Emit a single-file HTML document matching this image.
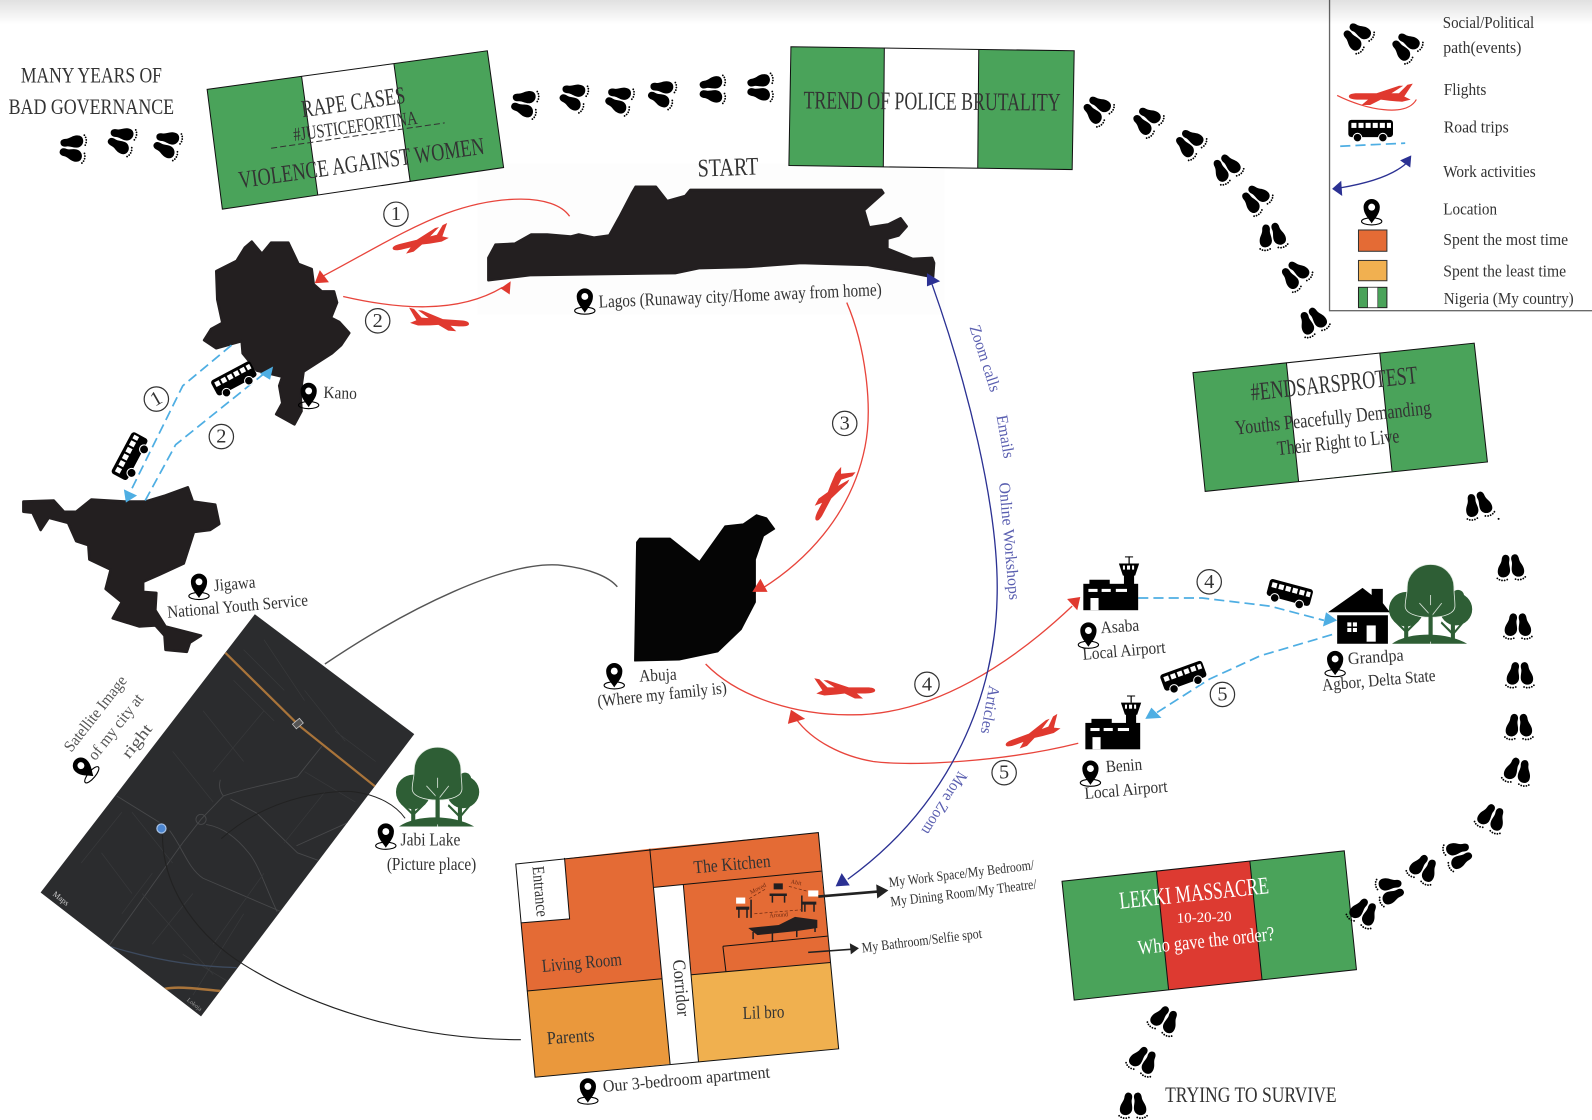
<!DOCTYPE html>
<html><head><meta charset="utf-8"><style>
html,body{margin:0;padding:0;background:#fff;width:1592px;height:1120px;overflow:hidden}
svg{display:block}
text{font-family:"Liberation Serif",serif;text-anchor:middle;dominant-baseline:central;fill:#333;font-size:17px}
.f{fill:#4aa35a;stroke:none}.o{fill:none;stroke:#111;stroke-width:1}
.r{fill:none;stroke:#e8453c;stroke-width:1.3}.ra{fill:#e0392f}
.d{fill:none;stroke:#4eaee3;stroke-width:1.7;stroke-dasharray:10 5}.da{fill:#4eaee3}
.b text,text.b{fill:#5a5fb0;font-size:16px}
.m{fill:none;stroke:#47484a;stroke-width:.9}
.n{fill:none;stroke:#333;stroke-width:1.2}
.blob{stroke-width:2.5;stroke-linejoin:round}
</style></head><body>
<svg width="1592" height="1120" viewBox="0 0 1568 1103.1" xmlns="http://www.w3.org/2000/svg">
<defs>
<clipPath id="mapclip"><polygon points="251,605 408,723 198,1001 40,879"/></clipPath>
<linearGradient id="top" x1="0" y1="0" x2="0" y2="1"><stop offset="0" stop-color="#000" stop-opacity=".12"/><stop offset="1" stop-color="#000" stop-opacity="0"/></linearGradient>
<g id="foot"><g transform="rotate(7 -6 0)"><path d="M-6,-13C-2.500,-13 -1.500,-10 -2,-7C-2.500,-4 -.5,-1 -.5,3C-.5,7 -4,9.500 -7,9.500C-11.500,9.500 -13,6 -12.500,2C-12,-2 -9.500,-4 -9.500,-8C-9.500,-11 -8,-13 -6,-13Z"/><circle cx="-12.500" cy="10.800" r=".9"/><circle cx="-10.300" cy="12" r=".9"/><circle cx="-7.800" cy="12.500" r=".9"/><circle cx="-5.200" cy="12.300" r=".9"/><circle cx="-2.700" cy="11.300" r=".9"/></g></g>
<g id="fp"><use href="#foot"/><use href="#foot" transform="scale(-1,1)"/></g>
<path id="plane" d="M-30,-12L-25,-11L-17,-3L-10,-3L-21,-10L-17,-10L4,-3L22,-3C27,-3 30,-2 30,0C30,2 26,3 20,3L12,3L18,8L10,8L0,3L-8,4L-20,5L-28,3L-22,0Z" fill="#e0392f"/>
<g id="bus"><rect x="-22" y="-10" width="44" height="17" rx="3"/><circle cx="-13" cy="7.500" r="4.200" stroke="#fff" stroke-width="1"/><circle cx="12" cy="7.500" r="4.200" stroke="#fff" stroke-width="1"/><g fill="#fff"><rect x="-19" y="-7" width="5" height="5"/><rect x="-12" y="-7" width="5" height="5"/><rect x="-5" y="-7" width="5" height="5"/><rect x="2" y="-7" width="5" height="5"/><rect x="9" y="-7" width="5" height="5"/><rect x="16" y="-7" width="4" height="5"/></g></g>
<g id="pin"><path d="M0,13C-3,8 -8,4 -8,-3A8,8 0 0 1 8,-3C8,4 3,8 0,13Z"/><circle cy="-3" r="3.400" fill="#fff"/><ellipse cy="11" rx="10" ry="3.500" fill="none" stroke="#000" stroke-width="1.100"/></g>
<g id="air"><rect x="0" y="27" width="54" height="26"/><rect x="6" y="23" width="20" height="6"/><rect x="40" y="16" width="10" height="14"/><path d="M35,7L55,7L51,19L39,19Z"/><rect x="44.500" y="0" width="1.200" height="7"/><rect x="41" y="0" width="8" height="1"/><g fill="#fff"><rect x="5" y="32" width="9" height="3"/><rect x="18" y="32" width="9" height="3"/><rect x="32" y="32" width="11" height="3"/><rect x="7" y="41" width="8" height="12"/><rect x="39" y="9" width="2" height="4"/><rect x="43" y="9" width="3" height="4"/><rect x="48" y="9" width="2" height="4"/></g></g>
<g id="trees"><g fill="#2e5e35"><circle cx="17" cy="44" r="17"/><circle cx="66" cy="44" r="16"/><circle cx="68" cy="31" r="6"/><path d="M15,58L19,58L19,76L15,76ZM61,58L65,58L65,76L61,76Z"/><path d="M39,50L43,50L43,74L39,74ZM6,54L16,64L16,67L5,56ZM28,54L18,64L18,67L29,56ZM52,56L62,66L62,69L51,58ZM74,54L64,66L64,69L75,56Z"/><path d="M3,78C20,66 56,66 77,78Z"/></g><path d="M41,0C27,0 18,11 18,22C18,30 16,34 16,41C16,48 27,52 41,52C55,52 65,48 65,41C65,34 64,30 64,22C64,11 55,0 41,0Z" fill="#2e5e35" stroke="#dfe8df" stroke-width=".8"/><path d="M41,30L41,78M41,50L30,38M41,52L52,38" stroke="#dfe8df" stroke-width=".9" fill="none" opacity=".9"/><path d="M39,40L43,40L43,76L39,76Z" fill="#2e5e35"/></g>
</defs>
<rect width="1568" height="1104" fill="#fff"/>
<rect x="470" y="161" width="460" height="149" fill="#fdfdfd"/>

<!-- Lagos / Kano / Jigawa / Abuja -->
<path class="blob" fill="#231f20" stroke="#231f20" d="M481,276L481,254L488,241L507,240L523,231L539,231L562,233L570,231L585,234L600,232L610,214L622,191L626,184L646,184L657,198L675,193L680,187L868,187L870,190L861,198L851,207L856,224L875,221L887,215L893,223L885,232L874,235L874,245L899,255L918,254L920,259L919,273L889,267L855,261L789,259L735,263L689,264L665,269L589,270L522,271Z"/>
<path class="blob" fill="#231f20" stroke="#231f20" d="M248,238L258,250L267,239L284,239L294,260L307,265L309,280L317,287L329,287L332,298L326,313L334,317L344,328L336,340L327,348L299,366L296,387L297,405L290,418L272,408L278,397L275,380L278,371L253,365L239,348L238,336L213,343L201,335L208,324L219,318L214,295L213,267L233,257L241,244Z"/>
<path class="blob" fill="#231f20" stroke="#231f20" d="M23,494L53,493L63,504L75,504L90,492L123,494L143,494L163,488L185,480L190,494L212,497L216,516L207,522L191,524L181,555L157,566L141,573L141,583L154,584L153,601L163,617L198,626L187,633L184,642L163,640L162,626L153,616L137,617L111,609L120,593L104,580L109,561L88,551L87,537L75,533L67,515L48,510L40,522L32,505L23,504Z"/>
<path fill="#050505" d="M627,534L630,530L660,530L689,553L714,518L732,516L745,507L755,510L763,521L752,528L744,551L744,593L730,620L707,642L669,650L625,651Z" stroke="#050505" stroke-width="1" stroke-linejoin="round"/>

<!-- Map -->
<polygon points="251,605 408,723 198,1001 40,879" fill="#2b2c2e"/>
<g clip-path="url(#mapclip)">
<g class="m">
<path d="M217,768C215,775 217,780 220,784L198,807L180,830L107,932"/>
<path d="M220,784C245,775 270,772 293,765L317,735"/>
<path d="M227,787L253,801L293,840L315,848"/>
<path d="M203,812C220,815 233,825 245,840C255,852 262,875 273,898"/>
<path d="M167,818C180,835 185,855 200,865L277,898"/>
<path d="M115,784L157,810"/><path d="M292,833L343,810"/>
<circle cx="198" cy="807" r="5"/>
</g>
<g fill="none" stroke="#38393b" stroke-width=".7">
<path d="M240,640L280,680M260,630L300,690M230,670L270,710M200,700L240,750M170,740L210,790M130,800L170,850M100,840L130,880M300,680L340,730M330,720L370,750M260,700L210,760M300,760L350,790M290,880L240,950M260,860L210,930M190,880L150,930M150,860L120,900M180,940L230,970M140,880L210,960M80,850L120,800M240,900L190,980M320,780L280,830"/>
</g>
<path d="M222,643L295,715L370,775" fill="none" stroke="#a9743a" stroke-width="2.200"/>
<path d="M162,974C175,971 195,974 217,976" fill="none" stroke="#a9743a" stroke-width="2.400"/>
<path d="M108,932C150,945 190,952 233,953" fill="none" stroke="#3d4a5e" stroke-width="1.200"/>
<rect x="289" y="710" width="9" height="6" fill="#555" stroke="#c4c4c4" stroke-width=".8" transform="rotate(-40 293 713)"/>
<circle cx="159" cy="816" r="4.500" fill="#4c86d0" stroke="#a9c3e6" stroke-width="1.200"/>
<text transform="translate(60,885) rotate(38)" style="fill:#ccc;font-size:8px">Maps</text>
<text transform="translate(191,990) rotate(38)" style="fill:#999;font-size:6px">Lokoja</text>
</g>

<!-- Black connectors -->
<path d="M320,654C400,600 500,550 555,557C580,560 600,568 608,578" fill="none" stroke="#555" stroke-width="1.400"/>
<path d="M218,826C270,780 335,778 350,780C372,783 390,793 399,806" fill="none" stroke="#222" stroke-width="1"/>
<path d="M160,822C160,880 200,925 240,950C320,1000 420,1024 513,1024" fill="none" stroke="#222" stroke-width="1.100"/>

<!-- Flags -->
<polygon points="204,88 480,50 496,165 219,206" class="f"/>
<polygon points="297,75 388,63 404,179 313,192" fill="#fff"/>
<polygon points="204,88 480,50 496,165 219,206" class="o"/>
<path d="M297,75L313,192M388,63L404,179" class="o"/>
<path d="M267,146L438,121" fill="none" stroke="#333" stroke-dasharray="6 3" stroke-width="1"/>
<text transform="translate(348,101) rotate(-8)" style="font-size:24px" textLength="103" lengthAdjust="spacingAndGlyphs">RAPE CASES</text>
<text transform="translate(350,125) rotate(-8)" style="font-size:19px" textLength="123" lengthAdjust="spacingAndGlyphs">#JUSTICEFORTINA</text>
<text transform="translate(356,161) rotate(-8)" style="font-size:24px" textLength="244" lengthAdjust="spacingAndGlyphs">VIOLENCE AGAINST WOMEN</text>

<polygon points="779,46 1058,50 1056,167 777,163" class="f"/>
<polygon points="871,47 964,49 963,166 870,164" fill="#fff"/>
<polygon points="779,46 1058,50 1056,167 777,163" class="o"/>
<path d="M871,47L870,164M964,49L963,166" class="o"/>
<text transform="translate(918,100) rotate(.5)" style="font-size:25px" textLength="253" lengthAdjust="spacingAndGlyphs">TREND OF POLICE BRUTALITY</text>

<polygon points="1175,367 1452,338 1465,455 1187,484" class="f"/>
<polygon points="1267,357 1359,348 1371,464 1279,474" fill="#fff"/>
<polygon points="1175,367 1452,338 1465,455 1187,484" class="o"/>
<path d="M1267,357L1279,474M1359,348L1371,464" class="o"/>
<text transform="translate(1314,378) rotate(-6)" style="font-size:25px" textLength="165" lengthAdjust="spacingAndGlyphs">#ENDSARSPROTEST</text>
<text transform="translate(1313,412) rotate(-6)" style="font-size:20px" textLength="194" lengthAdjust="spacingAndGlyphs">Youths Peacefully Demanding</text>
<text transform="translate(1318,436) rotate(-6)" style="font-size:20px" textLength="121" lengthAdjust="spacingAndGlyphs">Their Right to Live</text>

<polygon points="1046,868 1324,838 1336,955 1058,985" class="f"/>
<polygon points="1139,858 1231,848 1243,965 1151,975" fill="#dd3a31"/>
<polygon points="1046,868 1324,838 1336,955 1058,985" class="o"/>
<path d="M1139,858L1151,975M1231,848L1243,965" class="o"/>
<text transform="translate(1176,880) rotate(-6)" style="font-size:24px;fill:#fff" textLength="148" lengthAdjust="spacingAndGlyphs">LEKKI MASSACRE</text>
<text transform="translate(1186,904) rotate(-2)" style="font-size:14px;fill:#fff" textLength="54" lengthAdjust="spacingAndGlyphs">10-20-20</text>
<text transform="translate(1188,927) rotate(-6)" style="font-size:20px;fill:#fff" textLength="135" lengthAdjust="spacingAndGlyphs">Who gave the order?</text>

<!-- Apartment -->
<polygon points="508,851 640,836 652,964 519,976" fill="#e46b35"/>
<polygon points="519,976 652,964 660,1048 527,1061" fill="#ea983c"/>
<polygon points="640,836 806,820 809,858 644,874" fill="#e46b35"/>
<polygon points="644,874 673,871 688,1046 660,1048" fill="#fff"/>
<polygon points="673,871 809,858 818,948 681,960" fill="#e46b35"/>
<polygon points="681,960 818,948 826,1033 688,1046" fill="#f0b04f"/>
<polygon points="508,851 556,845 561,905 513,909" fill="#fff"/>
<g class="o">
<polygon points="508,851 806,820 826,1033 527,1061"/>
<path d="M556,845L561,905L513,909M640,836L660,1048M519,976L652,964M644,874L809,858M673,871L688,1046M681,960L818,948M712,932L815,922M712,932L715,957"/>
</g>
<text transform="translate(532,878) rotate(85)" style="font-size:17px" textLength="50" lengthAdjust="spacingAndGlyphs">Entrance</text>
<text transform="translate(721,851) rotate(-5)" style="font-size:18px" textLength="76" lengthAdjust="spacingAndGlyphs">The Kitchen</text>
<text transform="translate(573,948) rotate(-5)" style="font-size:18px" textLength="79" lengthAdjust="spacingAndGlyphs">Living Room</text>
<text transform="translate(562,1021) rotate(-4)" style="font-size:18px" textLength="47" lengthAdjust="spacingAndGlyphs">Parents</text>
<text transform="translate(671,973) rotate(85)" style="font-size:18px" textLength="56" lengthAdjust="spacingAndGlyphs">Corridor</text>
<text transform="translate(752,997) rotate(-2)" style="font-size:18px" textLength="41" lengthAdjust="spacingAndGlyphs">Lil bro</text>
<!-- furniture -->
<g fill="#231f20">
<path d="M737,914L767,911L783,903L805,906L805,914L785,917L746,921Z"/>
<path d="M741,918h1.500v7h-1.500zM760,918h1.500v9h-1.500zM784,916h1.500v7h-1.500zM802,912h1.500v6h-1.500z"/>
<path d="M725,893h13v3h-13zM727,896h1.500v8h-1.500zM735,896h1.500v8h-1.500zM739,886h1.500v18h-1.500z"/>
<path d="M758,880h17v2.500h-17zM760,882h1.500v7h-1.500zM772,882h1.500v7h-1.500zM762,870h9v6h-9z"/>
<path d="M790,888h14v3h-14zM792,891h1.500v7h-1.500zM801,891h1.500v7h-1.500zM789,882h1.500v16h-1.500z"/>
</g>
<rect x="725" y="884" width="9" height="6" fill="#fff"/><rect x="796" y="877" width="10" height="6" fill="#fff"/>
<path d="M738,885L755,875M777,873L796,878M743,900L790,896" fill="none" stroke="#6e2a12" stroke-width=".7" stroke-dasharray="3 2"/>
<text transform="translate(747,876) rotate(-28)" style="font-size:6px;fill:#6e2a12">Moved</text>
<text transform="translate(784,870) rotate(10)" style="font-size:6px;fill:#6e2a12">Abit</text>
<text transform="translate(767,902) rotate(-4)" style="font-size:6px;fill:#6e2a12">Around</text>
<!-- apartment arrows -->
<path d="M806,883L866,878" fill="none" stroke="#222" stroke-width="2.600"/><polygon points="875,877 863,871 864,885" fill="#222"/>
<path d="M796,938L838,935" fill="none" stroke="#222" stroke-width="1.500"/><polygon points="846,934 837,929 838,940" fill="#222"/>
<text transform="translate(947,861) rotate(-7)" style="font-size:14px" textLength="144" lengthAdjust="spacingAndGlyphs">My Work Space/My Bedroom/</text>
<text transform="translate(949,880) rotate(-7)" style="font-size:14px" textLength="145" lengthAdjust="spacingAndGlyphs">My Dining Room/My Theatre/</text>
<text transform="translate(908,927) rotate(-7)" style="font-size:14px" textLength="119" lengthAdjust="spacingAndGlyphs">My Bathroom/Selfie spot</text>

<!-- Red flights -->
<path class="r" d="M561,213C545,190 490,192 440,210C400,225 360,250 318,272"/>
<polygon class="ra" points="310,279 315,266 324,278"/>
<path class="r" d="M338,292C390,304 450,310 495,283"/>
<polygon class="ra" points="503,277 493,284 502,290"/>
<path class="r" d="M834,298C852,340 860,400 852,440C838,510 790,555 750,580"/>
<polygon class="ra" points="741,583 749,570 756,583"/>
<path class="r" d="M695,654C730,690 790,704 835,704C920,706 1000,650 1056,597"/>
<polygon class="ra" points="1064,588 1051,590 1061,601"/>
<path class="r" d="M1062,732C990,750 900,755 860,750C830,745 800,730 784,708"/>
<polygon class="ra" points="779,699 776,713 793,708"/>
<use href="#plane" transform="translate(415,238) rotate(-14) scale(-.97,.97)"/>
<use href="#plane" transform="translate(432,317) rotate(4)"/>
<use href="#plane" transform="translate(818,486) rotate(118)"/>
<use href="#plane" transform="translate(832,680)"/>
<use href="#plane" transform="translate(1018,724) rotate(-20) scale(-.97,.97)"/>

<!-- Navy work arc -->
<path d="M918,280C950,370 985,500 982,590C980,680 940,790 835,866" fill="none" stroke="#2b3193" stroke-width="1.300"/>
<polygon points="913,269 913,282 926,277" fill="#2b3193"/>
<polygon points="829,860 823,873 837,872" fill="#2b3193"/>
<text class="b" transform="translate(970,353) rotate(72)" textLength="68" lengthAdjust="spacingAndGlyphs">Zoom calls</text>
<text class="b" transform="translate(990,430) rotate(80)" textLength="43" lengthAdjust="spacingAndGlyphs">Emails</text>
<text class="b" transform="translate(994,533) rotate(85)" textLength="116" lengthAdjust="spacingAndGlyphs">Online Workshops</text>
<text class="b" transform="translate(975,699) rotate(100)" textLength="48" lengthAdjust="spacingAndGlyphs">Articles</text>
<text class="b" transform="translate(930,791) rotate(122)" textLength="70" lengthAdjust="spacingAndGlyphs">More Zoom</text>

<!-- Road trips -->
<path class="d" d="M228,340L180,380L128,485"/><polygon class="da" points="124,495 122,482 135,488"/>
<path class="d" d="M143,493L173,438L260,368"/><polygon class="da" points="269,361 256,368 266,374"/>
<path class="d" d="M1121,589L1184,589L1251,597L1304,611"/><polygon class="da" points="1317,611 1306,603 1303,617"/>
<path class="d" d="M1312,625L1241,646L1191,669L1136,704"/><polygon class="da" points="1128,708 1134,697 1144,707"/>
<use href="#bus" transform="translate(231,374) rotate(-28)"/>
<use href="#bus" transform="translate(129,450) rotate(-62) scale(1.050)"/>
<use href="#bus" transform="translate(1270,585) rotate(15)"/>
<use href="#bus" transform="translate(1166,667) rotate(-20)"/>

<!-- Numbers -->
<g class="n"><circle cx="390" cy="211" r="12"/><circle cx="372" cy="316" r="12"/><circle cx="154" cy="393" r="12"/><circle cx="218" cy="430" r="12"/><circle cx="832" cy="417" r="12"/><circle cx="913" cy="674" r="12"/><circle cx="989" cy="761" r="12"/><circle cx="1191" cy="573" r="12"/><circle cx="1204" cy="684" r="12"/></g>
<text x="390" y="211" style="font-size:20px">1</text><text x="372" y="316" style="font-size:20px">2</text><text transform="translate(154,393) rotate(-30)" style="font-size:20px">1</text><text x="218" y="430" style="font-size:20px">2</text><text x="832" y="417" style="font-size:20px">3</text><text x="913" y="674" style="font-size:20px">4</text><text x="989" y="761" style="font-size:20px">5</text><text x="1191" y="573" style="font-size:20px">4</text><text x="1204" y="684" style="font-size:20px">5</text>

<!-- Icons -->
<use href="#air" transform="translate(1067,548)"/>
<use href="#air" transform="translate(1069,685)"/>
<path d="M1308,603L1342,579L1351,586L1351,580L1362,580L1362,594L1369,603Z M1317,606H1367V634H1317Z"/>
<rect x="1346" y="616" width="9" height="16" fill="#fff"/>
<path d="M1327,613h4v4h-4zM1332.500,613h4v4h-4zM1327,618.500h4v4h-4zM1332.500,618.500h4v4h-4z" fill="#fff"/>
<use href="#trees" transform="translate(1368,556)"/>
<use href="#trees" transform="translate(390,736)"/>

<!-- Pins -->
<use href="#pin" transform="translate(576,295)"/>
<use href="#pin" transform="translate(304,388)"/>
<use href="#pin" transform="translate(196,576)"/>
<use href="#pin" transform="translate(605,664)"/>
<use href="#pin" transform="translate(380,822)"/>
<use href="#pin" transform="translate(1072,624)"/>
<use href="#pin" transform="translate(1074,760)"/>
<use href="#pin" transform="translate(1315,652)"/>
<use href="#pin" transform="translate(579,1073)"/>
<use href="#pin" transform="translate(82,756) rotate(-50)"/>

<!-- Labels -->
<text x="90" y="74" style="font-size:22px" textLength="139" lengthAdjust="spacingAndGlyphs">MANY YEARS OF</text>
<text x="90" y="105" style="font-size:22px" textLength="163" lengthAdjust="spacingAndGlyphs">BAD GOVERNANCE</text>
<text transform="translate(717,165) rotate(-2)" style="font-size:25px" textLength="60" lengthAdjust="spacingAndGlyphs">START</text>
<text x="1232" y="1078" style="font-size:22px" textLength="169" lengthAdjust="spacingAndGlyphs">TRYING TO SURVIVE</text>
<text transform="translate(729,291) rotate(-2.500)" style="font-size:18px" textLength="279" lengthAdjust="spacingAndGlyphs">Lagos (Runaway city/Home away from home)</text>
<text transform="translate(335,387) rotate(2)" textLength="33" lengthAdjust="spacingAndGlyphs">Kano</text>
<text transform="translate(231,575) rotate(-5)" textLength="41" lengthAdjust="spacingAndGlyphs">Jigawa</text>
<text transform="translate(234,597) rotate(-5)" textLength="139" lengthAdjust="spacingAndGlyphs">National Youth Service</text>
<text transform="translate(648,665) rotate(-3)" textLength="37" lengthAdjust="spacingAndGlyphs">Abuja</text>
<text transform="translate(652,684) rotate(-6)" textLength="128" lengthAdjust="spacingAndGlyphs">(Where my family is)</text>
<text x="424" y="827" style="font-size:18px" textLength="59" lengthAdjust="spacingAndGlyphs">Jabi Lake</text>
<text x="425" y="851" style="font-size:18px" textLength="88" lengthAdjust="spacingAndGlyphs">(Picture place)</text>
<text transform="translate(1103,617) rotate(-4)" textLength="38" lengthAdjust="spacingAndGlyphs">Asaba</text>
<text transform="translate(1107,641) rotate(-5)" textLength="82" lengthAdjust="spacingAndGlyphs">Local Airport</text>
<text transform="translate(1107,754) rotate(-4)" textLength="36" lengthAdjust="spacingAndGlyphs">Benin</text>
<text transform="translate(1109,778) rotate(-5)" textLength="82" lengthAdjust="spacingAndGlyphs">Local Airport</text>
<text transform="translate(1355,647) rotate(-4)" textLength="55" lengthAdjust="spacingAndGlyphs">Grandpa</text>
<text transform="translate(1358,670) rotate(-5)" textLength="112" lengthAdjust="spacingAndGlyphs">Agbor, Delta State</text>
<text transform="translate(676,1063) rotate(-5)" textLength="165" lengthAdjust="spacingAndGlyphs">Our 3-bedroom apartment</text>
<text transform="translate(94,703) rotate(-52)" style="fill:#555;font-size:16px" textLength="90" lengthAdjust="spacingAndGlyphs">Satellite Image</text>
<text transform="translate(114,716) rotate(-52)" style="fill:#555;font-size:16px" textLength="78" lengthAdjust="spacingAndGlyphs">of my city at</text>
<text transform="translate(135,730) rotate(-52)" style="fill:#555;font-size:16px" textLength="38" lengthAdjust="spacingAndGlyphs">right</text>

<!-- Footprints -->
<g>
<use href="#fp" transform="translate(72,146) rotate(-85)"/>
<use href="#fp" transform="translate(120,138) rotate(-72)"/>
<use href="#fp" transform="translate(165,142) rotate(-72)"/>
<use href="#fp" transform="translate(517,102) rotate(-80)"/>
<use href="#fp" transform="translate(565,95) rotate(-72)"/>
<use href="#fp" transform="translate(610,98) rotate(-72)"/>
<use href="#fp" transform="translate(652,92) rotate(-75)"/>
<use href="#fp" transform="translate(702,88) rotate(-90)"/>
<use href="#fp" transform="translate(749,86) rotate(-90)"/>
<use href="#fp" transform="translate(1081,108) rotate(-52)"/>
<use href="#fp" transform="translate(1130,119) rotate(-52)"/>
<use href="#fp" transform="translate(1172,141) rotate(-50)"/>
<use href="#fp" transform="translate(1208,166) rotate(-35)"/>
<use href="#fp" transform="translate(1237,196) rotate(-48)"/>
<use href="#fp" transform="translate(1253,233) rotate(-10)"/>
<use href="#fp" transform="translate(1276,271) rotate(-45)"/>
<use href="#fp" transform="translate(1293,317) rotate(-28)"/>
<use href="#fp" transform="translate(1456,498) rotate(-15)"/>
<circle cx="1476" cy="511" r="1"/>
<use href="#fp" transform="translate(1488,559) rotate(-3)"/>
<use href="#fp" transform="translate(1495,617)"/>
<use href="#fp" transform="translate(1497,665)"/>
<use href="#fp" transform="translate(1496,716)"/>
<use href="#fp" transform="translate(1495,760) rotate(15)"/>
<use href="#fp" transform="translate(1469,806) rotate(25)"/>
<use href="#fp" transform="translate(1436,842) rotate(70)"/>
<use href="#fp" transform="translate(1402,856) rotate(30)"/>
<use href="#fp" transform="translate(1369,877) rotate(75)"/>
<use href="#fp" transform="translate(1343,899) rotate(30)"/>
<use href="#fp" transform="translate(1147,1005) rotate(30)"/>
<use href="#fp" transform="translate(1126,1045) rotate(30)"/>
<use href="#fp" transform="translate(1116,1089)"/>
</g>

<!-- Legend -->
<rect x="1309.500" y="-2" width="262" height="308" fill="#fff" stroke="#666" stroke-width="1.300"/>
<use href="#fp" transform="translate(1337,36) rotate(-50)"/>
<use href="#fp" transform="translate(1385,46) rotate(-50)"/>
<use href="#plane" transform="translate(1360,95) scale(-1.050,1.050)"/>
<path d="M1317,94C1345,108 1385,116 1395,98" fill="none" stroke="#e8453c" stroke-width="1.200"/>
<use href="#bus" transform="translate(1350,128)"/>
<path d="M1320,144L1384,141" fill="none" stroke="#4eaee3" stroke-width="1.700" stroke-dasharray="10 5"/>
<path d="M1320,185C1350,180 1375,172 1388,158" fill="none" stroke="#2b3193" stroke-width="1.300"/>
<polygon points="1312,186 1321,178 1322,193" fill="#2b3193"/>
<polygon points="1390,153 1379,158 1389,165" fill="#2b3193"/>
<use href="#pin" transform="translate(1351,207)"/>
<rect x="1338" y="226.500" width="28" height="21" fill="#e46b35" stroke="#333"/>
<rect x="1338" y="256.500" width="28" height="20" fill="#f1b050" stroke="#333"/>
<rect x="1338" y="283" width="28" height="20" fill="#4aa35a" stroke="#222"/>
<rect x="1347" y="283" width="10" height="20" fill="#fff" stroke="#222" stroke-width=".6"/>
<text x="1466" y="22" textLength="90" lengthAdjust="spacingAndGlyphs">Social/Political</text>
<text x="1460" y="47" textLength="77" lengthAdjust="spacingAndGlyphs">path(events)</text>
<text x="1443" y="88" textLength="42" lengthAdjust="spacingAndGlyphs">Flights</text>
<text x="1454" y="125" textLength="64" lengthAdjust="spacingAndGlyphs">Road trips</text>
<text x="1467" y="169" textLength="91" lengthAdjust="spacingAndGlyphs">Work activities</text>
<text x="1448" y="206" textLength="53" lengthAdjust="spacingAndGlyphs">Location</text>
<text x="1483" y="236" textLength="123" lengthAdjust="spacingAndGlyphs">Spent the most time</text>
<text x="1482" y="267" textLength="121" lengthAdjust="spacingAndGlyphs">Spent the least time</text>
<text x="1486" y="294" textLength="128" lengthAdjust="spacingAndGlyphs">Nigeria (My country)</text>
<rect x="0" y="0" width="1568" height="24" fill="url(#top)"/>
</svg>
</body></html>
